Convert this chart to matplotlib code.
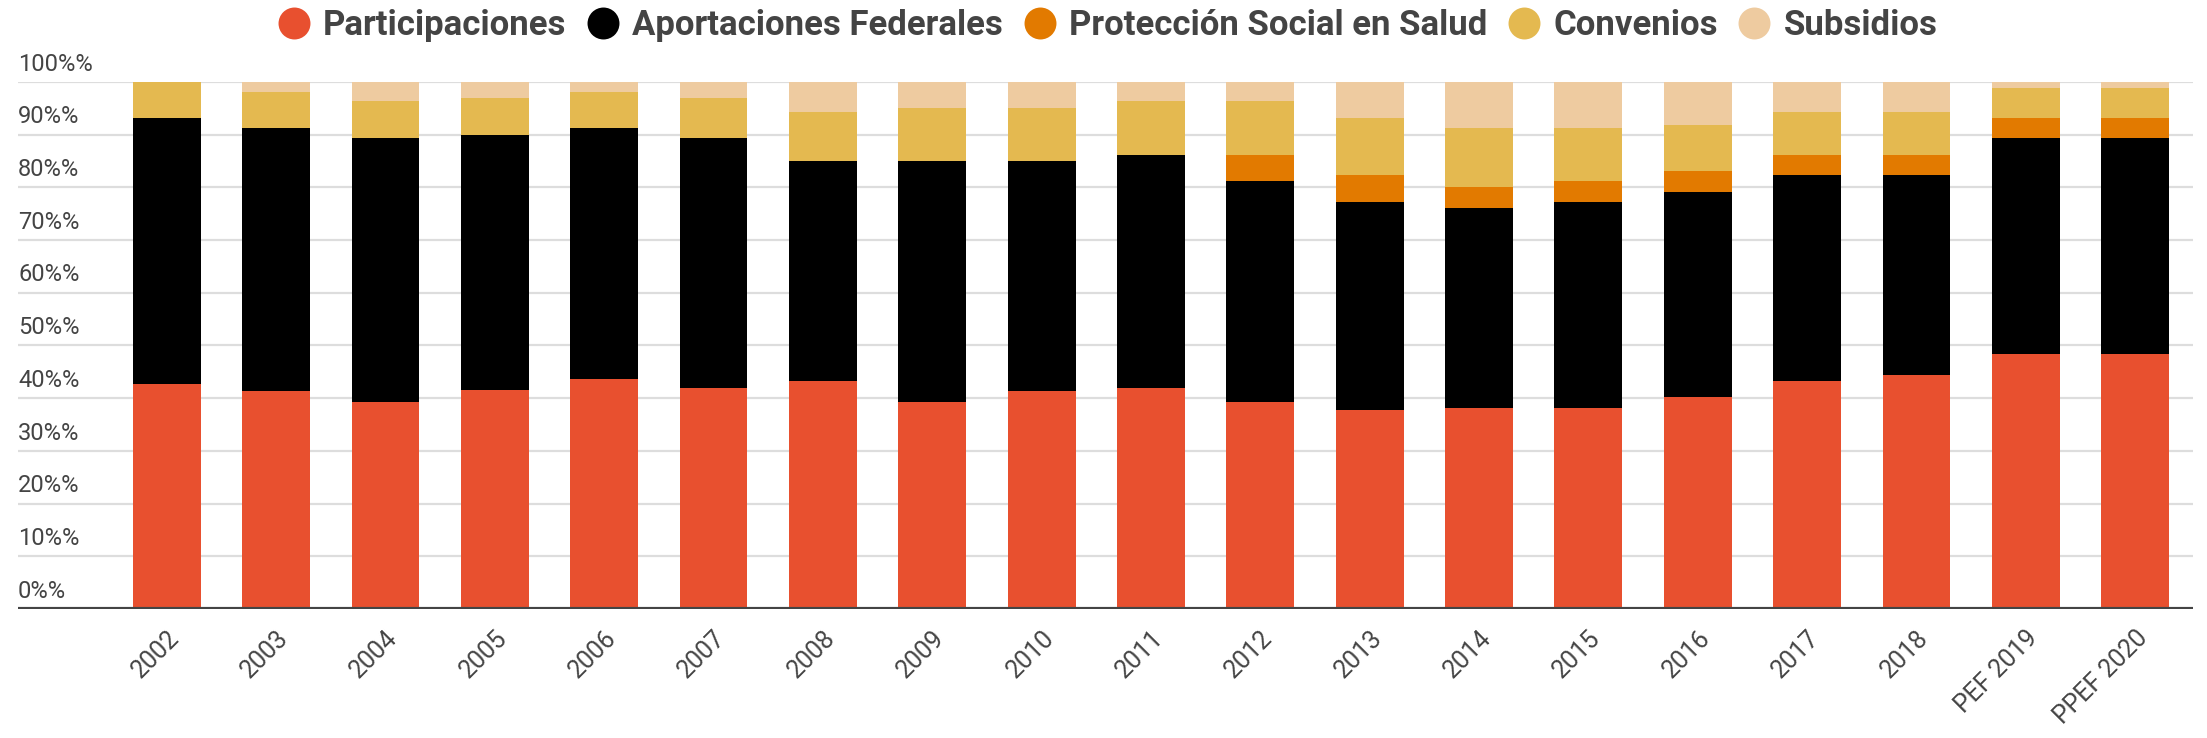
import numpy as np
import matplotlib
matplotlib.use('Agg')
import matplotlib.pyplot as plt
from matplotlib.lines import Line2D

plt.rcParams['font.family'] = ['Roboto', 'DejaVu Sans']

years = ['2002', '2003', '2004', '2005', '2006', '2007', '2008', '2009', '2010',
         '2011', '2012', '2013', '2014', '2015', '2016', '2017', '2018',
         'PEF 2019', 'PPEF 2020']

participaciones = [42.7, 41.3, 39.3, 41.6, 43.6, 42.0, 43.2, 39.3, 41.3, 42.0,
                   39.3, 37.8, 38.2, 38.2, 40.2, 43.2, 44.4, 48.3, 48.3]
aportaciones = [50.4, 49.9, 50.0, 48.4, 47.6, 47.3, 41.8, 45.7, 43.7, 44.2,
                41.9, 39.5, 37.9, 39.1, 39.0, 39.1, 37.9, 41.0, 41.0]
proteccion = [0, 0, 0, 0, 0, 0, 0, 0, 0, 0,
              5.0, 5.0, 3.9, 3.9, 4.0, 3.9, 3.9, 3.8, 3.8]
convenios = [6.9, 6.9, 7.0, 7.0, 6.9, 7.7, 9.3, 10.1, 10.1, 10.1,
             10.1, 10.9, 11.2, 10.0, 8.7, 8.1, 8.1, 5.8, 5.8]
subsidios = [0, 1.9, 3.7, 3.0, 1.9, 3.0, 5.7, 4.9, 4.9, 3.7,
             3.7, 6.8, 8.8, 8.8, 8.1, 5.7, 5.7, 1.1, 1.1]

series_names = ['Participaciones', 'Aportaciones Federales',
                'Protección Social en Salud', 'Convenios', 'Subsidios']
colors = ['#E8502F', '#000000', '#E27A00', '#E4B950', '#EECBA0']

fig = plt.figure(figsize=(22.07, 7.38), dpi=100)
ax = fig.add_axes([0.0082, 0.1748, 0.9855, 0.7141])

x = np.arange(len(years))
bottom = np.zeros(len(years))
for vals, col in zip([participaciones, aportaciones, proteccion, convenios, subsidios], colors):
    ax.bar(x, vals, bottom=bottom, width=0.62, color=col, linewidth=0, zorder=2)
    bottom += np.array(vals)

ax.set_xlim(-1.36, 18.53)
ax.set_ylim(0, 100)

# grid + y labels sitting above the lines
for v in range(10, 101, 10):
    ax.axhline(v, color='#dddddd', linewidth=1.6, zorder=1)
for v in range(0, 101, 10):
    ax.text(0.0, v + 1.2, '%d%%%%' % v, transform=ax.get_yaxis_transform(),
            ha='left', va='bottom', fontsize=17, color='#444444')
ax.axhline(0, color='#444444', linewidth=3, zorder=3)

for s in ax.spines.values():
    s.set_visible(False)
ax.set_yticks([])
ax.set_xticks(x)
ax.set_xticklabels(years, rotation=45, ha='right', rotation_mode='anchor',
                   fontsize=18, color='#444444')
ax.tick_params(axis='x', length=0, pad=12)

handles = [Line2D([], [], marker='o', linestyle='none', markersize=23,
                  markerfacecolor=c, markeredgewidth=0) for c in colors]
fig.legend(handles, series_names, loc='upper center', ncol=5, frameon=False,
           bbox_to_anchor=(0.5, 1.03), handletextpad=0.15, handlelength=1.4,
           columnspacing=0.35, prop={'size': 25, 'weight': 'bold'},
           labelcolor='#444444')

fig.savefig('out.png', dpi=100)
